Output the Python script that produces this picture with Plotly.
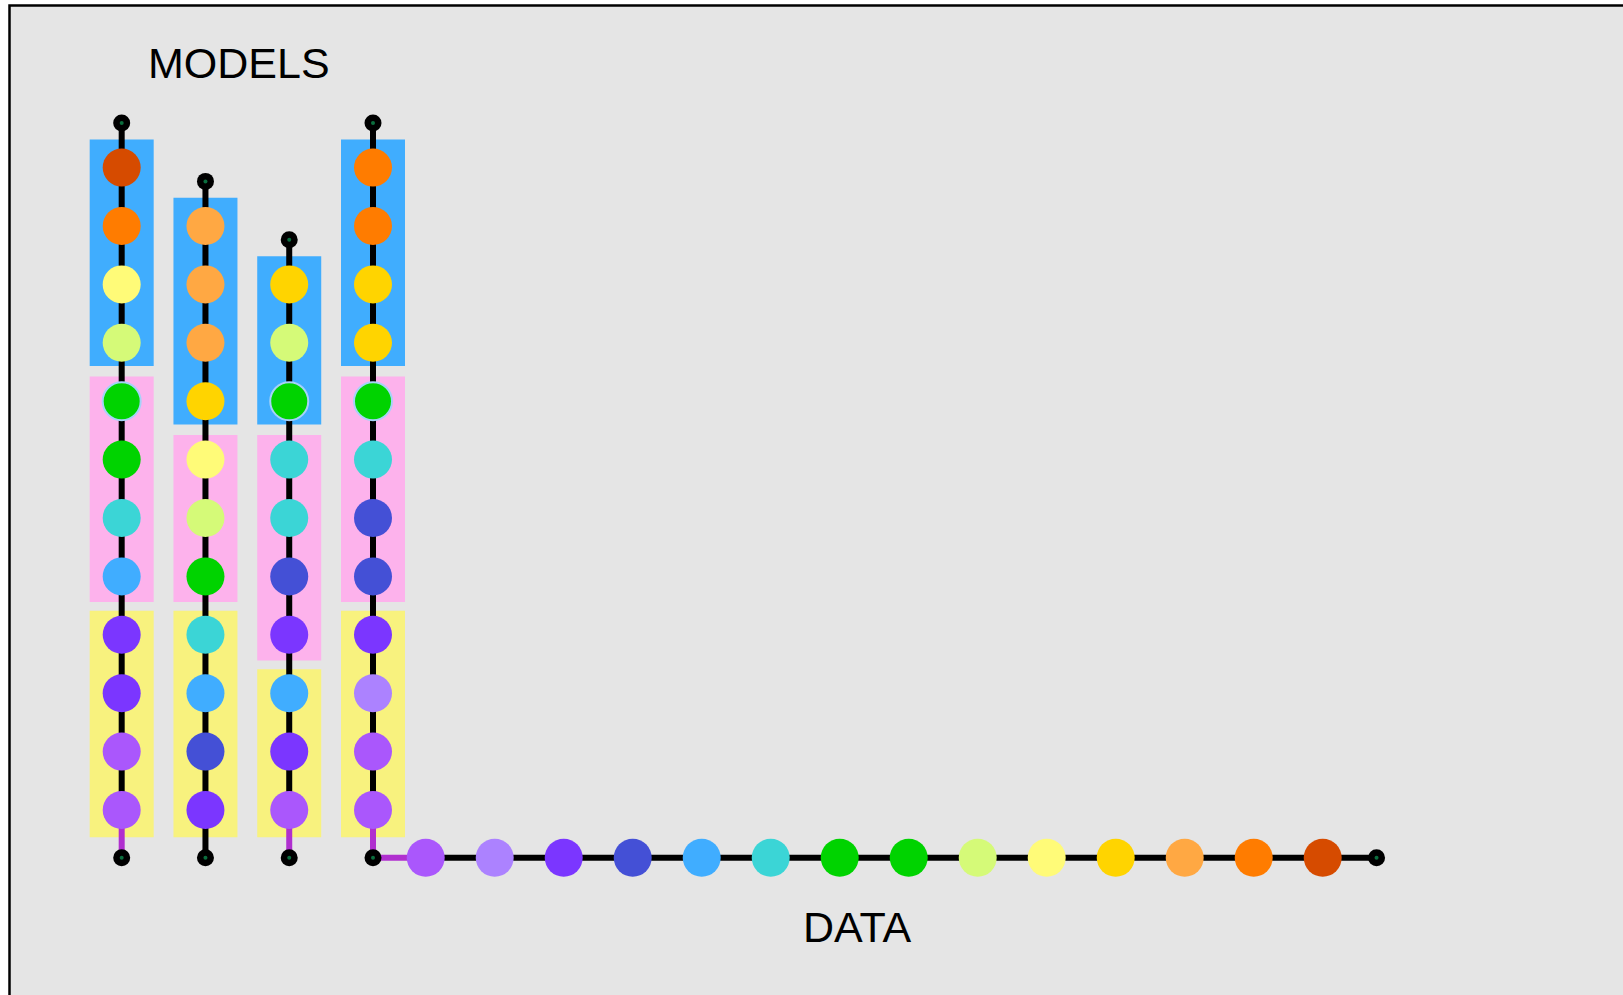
import plotly.graph_objects as go

# ---------------- data ----------------
palette = {
    "rust": "#d64b00", "orange": "#ff7c00", "apricot": "#ffa843", "gold": "#ffd400",
    "lemon": "#fffb78", "lime": "#d5fa78", "green": "#00d300", "teal": "#3bd5d6",
    "sky": "#40adff", "indigo": "#4450d6", "purple": "#7b36ff", "violet": "#aa57fc",
    "lavender": "#ac82ff",
}
group_colors = {"top": "#40adfe", "mid": "#fdb2ec", "base": "#f8f27e"}

models = ["model 1", "model 2", "model 3", "model 4"]
# each group listed top -> bottom
model_top = [
    ["rust", "orange", "lemon", "lime"],
    ["apricot", "apricot", "apricot", "gold"],
    ["gold", "lime", "green"],
    ["orange", "orange", "gold", "gold"],
]
model_mid = [
    ["green", "green", "teal", "sky"],
    ["lemon", "lime", "green"],
    ["teal", "teal", "indigo", "purple"],
    ["green", "teal", "indigo", "indigo"],
]
model_base = [
    ["purple", "purple", "violet", "violet"],
    ["teal", "sky", "indigo", "purple"],
    ["sky", "purple", "violet"],
    ["purple", "lavender", "violet", "violet"],
]
model_linked = [True, False, True, True]
highlighted = [(0, 8), (2, 8), (3, 8)]  # (model index, row from bottom)

data_seq = ["violet", "lavender", "purple", "indigo", "sky", "teal", "green", "green",
            "lime", "lemon", "gold", "apricot", "orange", "rust"]

# ---------------- layout constants ----------------
W, H = 1623, 995
STEP_PX = 69.0      # px per x unit (data step)
ROW_PX = 58.4       # px per y unit (row)
ORIGIN_PX = (373.0, 810.0)  # px of (x=0, y=1)
COL_SP = 83.77 / STEP_PX
GAP_X = 0.764
END_GAP_X = 0.78
TOP_GAP = 0.764
BOT_GAP = 0.817
BOX_HALF_W = 32 / STEP_PX
# (top pad, bottom pad) in px for each group band
PADS = {"top": (28.2, 23.3), "mid": (24.6, 25.6), "base": (24.0, 27.2)}
LINE_W = 6
LINK_COLOR = "#b02fcf"
DOT_GREEN = "#0b6e3e"

x_range = [-ORIGIN_PX[0] / STEP_PX, (W - ORIGIN_PX[0]) / STEP_PX]
y_range = [1 - (H - ORIGIN_PX[1]) / ROW_PX, 1 + ORIGIN_PX[1] / ROW_PX]

fig = go.Figure()
shapes = [dict(type="rect", xref="paper", yref="paper",
               x0=9.5 / W, x1=1.05, y0=-0.05, y1=1 - 5.5 / H,
               line=dict(color="#000", width=2.5), fillcolor="#e5e5e5", layer="below")]

base_y = 1 - BOT_GAP
circ_x, circ_y, circ_c, circ_lw = [], [], [], []
dots_x, dots_y = [], []

n_models = len(models)
for j in range(n_models):
    cx = -(n_models - 1 - j) * COL_SP
    groups = [("top", model_top[j]), ("mid", model_mid[j]), ("base", model_base[j])]
    n = sum(len(g) for _, g in groups)
    row = n
    for gname, items in groups:
        r_top = row
        r_bot = row - len(items) + 1
        pt, pb = PADS[gname]
        shapes.append(dict(type="rect", xref="x", yref="y",
                           x0=cx - BOX_HALF_W, x1=cx + BOX_HALF_W,
                           y0=r_bot - pb / ROW_PX, y1=r_top + pt / ROW_PX,
                           fillcolor=group_colors[gname], line=dict(width=0), layer="below"))
        for name in items:
            circ_x.append(cx)
            circ_y.append(row)
            circ_c.append(palette[name])
            circ_lw.append(2 if (j, row) in highlighted else 0)
            row -= 1
    top_y = n + TOP_GAP
    if model_linked[j]:
        fig.add_trace(go.Scatter(x=[cx, cx], y=[top_y, 1], mode="lines",
                                 line=dict(color="#000", width=LINE_W), hoverinfo="skip"))
        fig.add_trace(go.Scatter(x=[cx, cx], y=[1, base_y], mode="lines",
                                 line=dict(color=LINK_COLOR, width=LINE_W), hoverinfo="skip"))
    else:
        fig.add_trace(go.Scatter(x=[cx, cx], y=[top_y, base_y], mode="lines",
                                 line=dict(color="#000", width=LINE_W), hoverinfo="skip"))
    dots_x += [cx, cx]
    dots_y += [top_y, base_y]

# data row
dx = [GAP_X + i for i in range(len(data_seq))]
end_x = dx[-1] + END_GAP_X
fig.add_trace(go.Scatter(x=[0, dx[0]], y=[base_y, base_y], mode="lines",
                         line=dict(color=LINK_COLOR, width=LINE_W), hoverinfo="skip"))
fig.add_trace(go.Scatter(x=[dx[0], end_x], y=[base_y, base_y], mode="lines",
                         line=dict(color="#000", width=LINE_W), hoverinfo="skip"))
for i, name in enumerate(data_seq):
    circ_x.append(dx[i])
    circ_y.append(base_y)
    circ_c.append(palette[name])
    circ_lw.append(0)
dots_x.append(end_x)
dots_y.append(base_y)

fig.add_trace(go.Scatter(x=circ_x, y=circ_y, mode="markers",
                         marker=dict(size=38, color=circ_c,
                                     line=dict(color="#a6d2f8", width=circ_lw)),
                         hoverinfo="skip"))
fig.add_trace(go.Scatter(x=dots_x, y=dots_y, mode="markers",
                         marker=dict(size=17, color="#000", line=dict(width=0)),
                         hoverinfo="skip"))
fig.add_trace(go.Scatter(x=dots_x, y=dots_y, mode="markers",
                         marker=dict(size=4, color=DOT_GREEN, line=dict(width=0)),
                         hoverinfo="skip"))

font = dict(family="Liberation Sans, Arial, sans-serif", size=43, color="#000")
annotations = [
    dict(text="MODELS", xref="paper", yref="paper", x=239 / W, y=1 - 62.9 / H,
         xanchor="center", yanchor="middle", showarrow=False, font=font),
    dict(text="DATA", xref="paper", yref="paper", x=857 / W, y=1 - 927 / H,
         xanchor="center", yanchor="middle", showarrow=False, font=font),
]

fig.update_layout(
    width=W, height=H, autosize=False,
    margin=dict(l=0, r=0, t=0, b=0, pad=0),
    paper_bgcolor="#ffffff", plot_bgcolor="#ffffff",
    showlegend=False, shapes=shapes, annotations=annotations,
    xaxis=dict(range=x_range, visible=False, showgrid=False, zeroline=False, fixedrange=True),
    yaxis=dict(range=y_range, visible=False, showgrid=False, zeroline=False, fixedrange=True),
)

fig.write_html("out.html", config={"displayModeBar": False},
               post_script="document.body.style.margin='0';document.body.style.overflow='hidden';")
